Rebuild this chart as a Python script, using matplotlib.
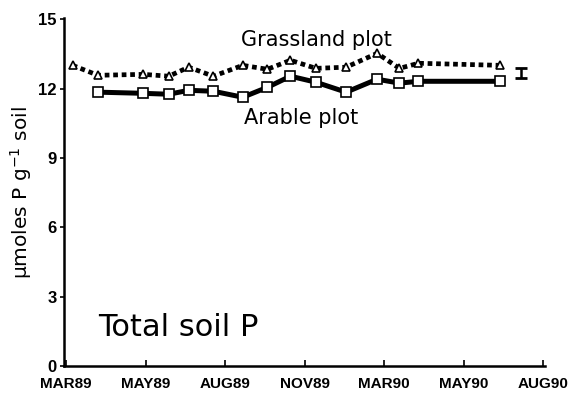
import matplotlib.pyplot as plt

# sampling dates on the category axis (0 = MAR89 ... 6 = AUG90)
month_labels = ["MAR89", "MAY89", "AUG89", "NOV89", "MAR90", "MAY90", "AUG90"]
grass_x = [0.08, 0.40, 0.97, 1.29, 1.54, 1.85, 2.22, 2.53, 2.82, 3.14,
           3.52, 3.91, 4.19, 4.43, 5.46]
grass_p = [13.01, 12.58, 12.62, 12.54, 12.93, 12.54, 13.01, 12.84, 13.23,
           12.88, 12.93, 13.53, 12.88, 13.10, 13.01]
arable_x = [0.40, 0.97, 1.29, 1.54, 1.85, 2.22, 2.53, 2.82, 3.14,
            3.52, 3.91, 4.19, 4.43, 5.46]
arable_p = [11.85, 11.80, 11.76, 11.93, 11.89, 11.63, 12.06, 12.54, 12.28,
            11.85, 12.41, 12.24, 12.32, 12.32]
# least significant difference bar
lsd_x = 5.72
lsd_y = 12.67
lsd_half = 0.22

fig = plt.figure(figsize=(5.7, 3.95), dpi=100)
ax = fig.add_axes([0.112, 0.073, 0.844, 0.881])

ax.plot(grass_x, grass_p, color="black", lw=3.4, dashes=(1.0, 0.8),
        marker="^", ms=6, mfc="white", mec="black", mew=1.2, zorder=3)
ax.plot(arable_x, arable_p, color="black", lw=3.6,
        marker="s", ms=6.5, mfc="white", mec="black", mew=1.2, zorder=4)
ax.errorbar([lsd_x], [lsd_y], yerr=[lsd_half], fmt="none", ecolor="black",
            elinewidth=1.8, capsize=4.5, capthick=2)

ax.set_xlim(-0.03, 6.02)
ax.set_ylim(0, 15.05)
ax.set_xticks(range(len(month_labels)))
ax.set_xticklabels(month_labels, fontfamily="Liberation Sans",
                   fontweight="bold", fontsize=11)
ax.set_yticks([0, 3, 6, 9, 12, 15])
ax.set_yticklabels(["0", "3", "6", "9", "12", "15"],
                   fontfamily="Liberation Sans", fontweight="bold", fontsize=12)
ax.tick_params(axis="x", direction="in", length=4, width=1.2, pad=8)
ax.tick_params(axis="y", direction="out", length=3, width=1.2, pad=2)

for side in ("top", "right"):
    ax.spines[side].set_visible(False)
for side in ("left", "bottom"):
    ax.spines[side].set_linewidth(1.8)

ax.set_ylabel("\u03bcmoles P g$^{-1}$ soil", fontfamily="DejaVu Sans",
              fontsize=14.5, labelpad=3)

ax.text(3.15, 14.1, "Grassland plot", fontfamily="DejaVu Sans",
        fontsize=15, ha="center", va="center")
ax.text(2.95, 10.72, "Arable plot", fontfamily="DejaVu Sans",
        fontsize=15, ha="center", va="center")
ax.text(0.40, 1.69, "Total soil P", fontfamily="DejaVu Sans",
        fontsize=22, ha="left", va="center")

fig.savefig("out.png", dpi=100)
